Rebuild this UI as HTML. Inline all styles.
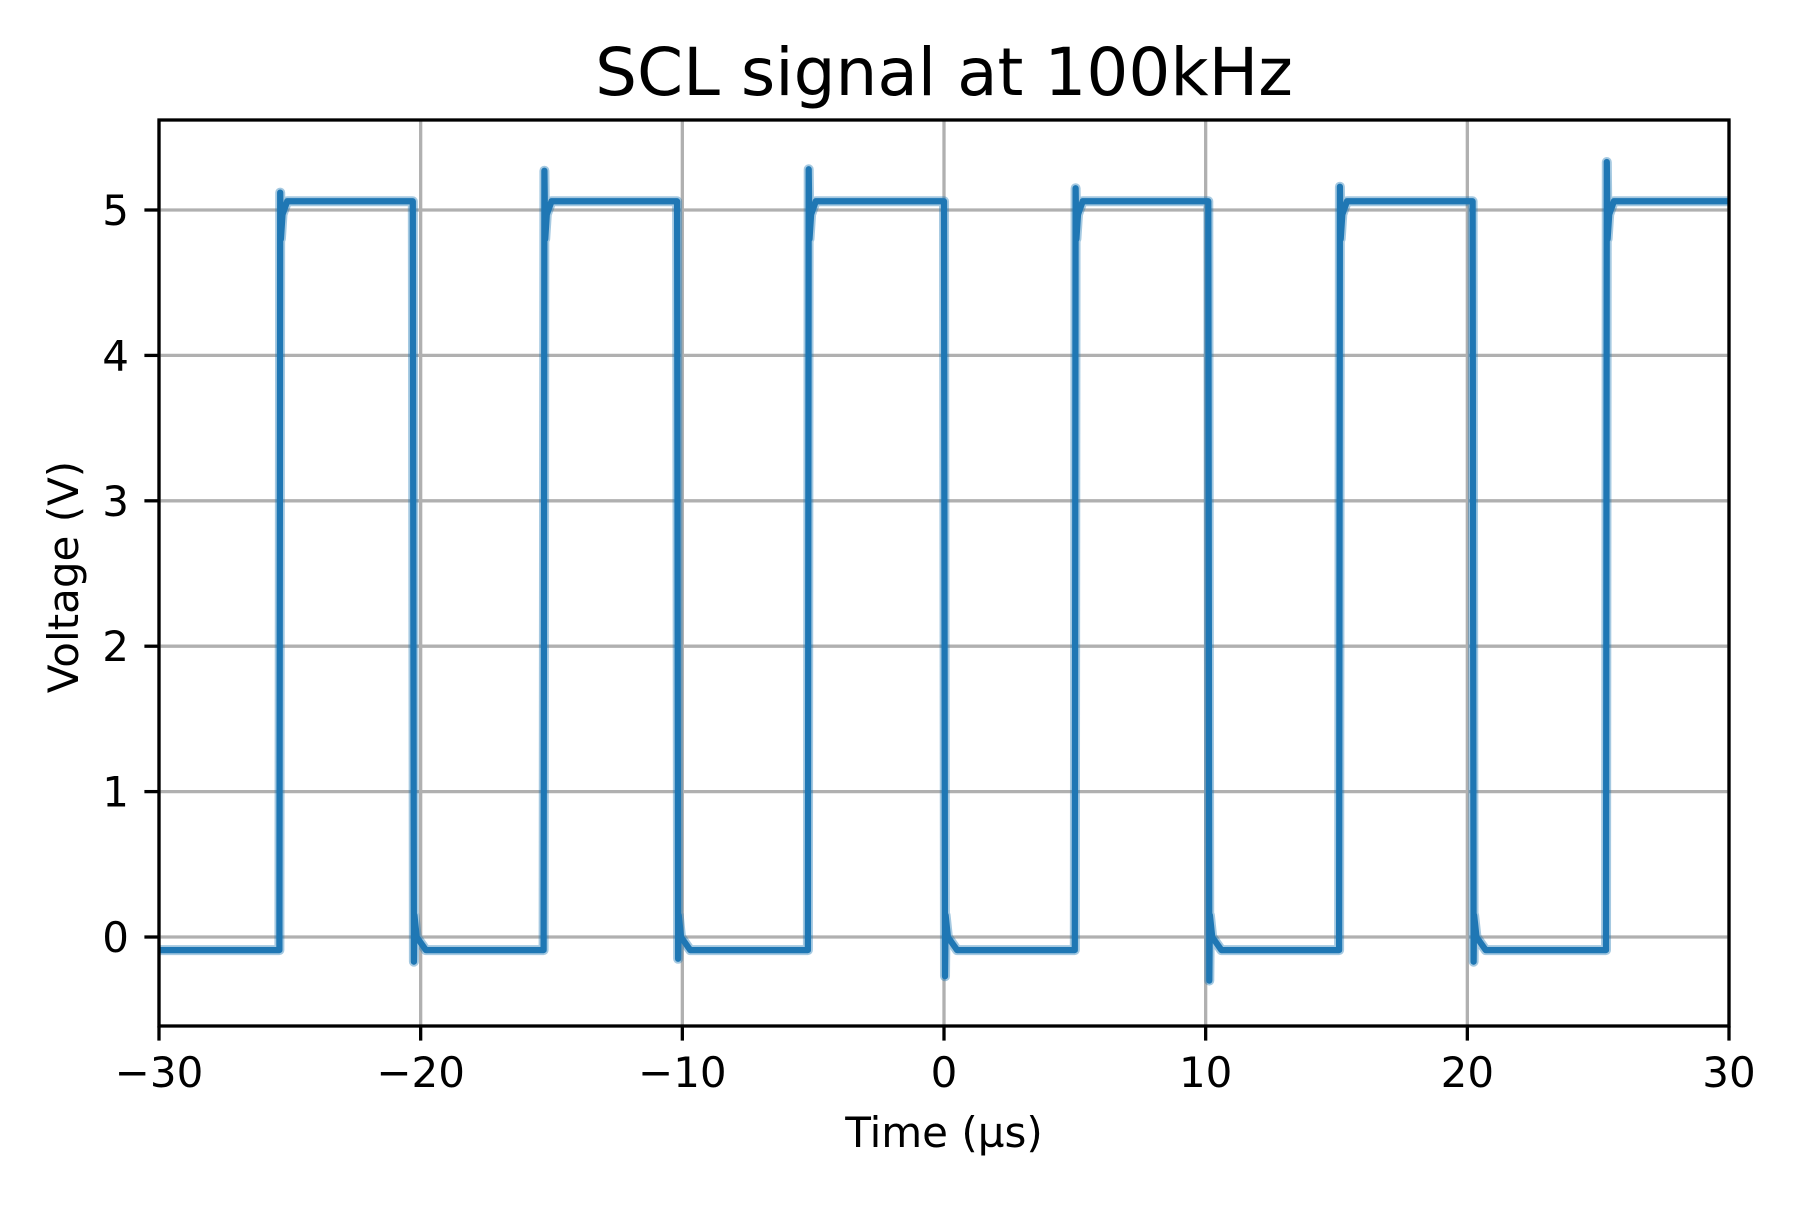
<!DOCTYPE html>
<html><head><meta charset="utf-8"><style>
body{margin:0;background:#fff}
svg text{font-family:"DejaVu Sans","Liberation Sans",sans-serif;fill:#000}
</style></head><body>
<svg id="chart" width="1800" height="1200" viewBox="0 0 1800 1200">
<rect width="1800" height="1200" fill="#fff"/>
<g id="grid"></g>
<g id="series"></g>
<rect x="159" y="120" width="1570" height="906" fill="none" stroke="#000" stroke-width="3.3"/>
<g id="ticks"></g>
<text x="944" y="95" font-size="66" text-anchor="middle">SCL signal at 100kHz</text>
<text x="944" y="1147" font-size="42" text-anchor="middle">Time (µs)</text>
<text transform="translate(78,577) rotate(-90)" font-size="42" text-anchor="middle">Voltage (V)</text>
</svg>
<script>
const xTicks=[-30,-20,-10,0,10,20,30];
const xTickLabels=["\u221230","\u221220","\u221210","0","10","20","30"];
const yTicks=[0,1,2,3,4,5];
const yTickLabels=["0","1","2","3","4","5"];
const risingEdges=[-25.4,-15.3,-5.2,5.0,15.1,25.3];
const risingSpikes=[5.12,5.27,5.28,5.15,5.16,5.33];
const fallingEdges=[-20.3,-10.2,0.0,10.1,20.2];
const fallingUndershoots=[-0.17,-0.15,-0.27,-0.30,-0.17];
const highLevel=5.06;
const lowLevel=-0.09;

const X0=159,X1=1729,Y0=1026,Y1=120,xmin=-30,xmax=30,ymin=-0.612,ymax=5.619;
const sx=v=>X0+(v-xmin)/(xmax-xmin)*(X1-X0);
const sy=v=>Y0-(v-ymin)/(ymax-ymin)*(Y0-Y1);
const NS="http://www.w3.org/2000/svg";
const grid=document.getElementById('grid'),ticks=document.getElementById('ticks'),series=document.getElementById('series');
function mk(tag,attrs,parent){const e=document.createElementNS(NS,tag);for(const k in attrs)e.setAttribute(k,attrs[k]);parent.appendChild(e);return e;}
xTicks.forEach((v,i)=>{
  const x=sx(v);
  const g=mk('line',{x1:x,x2:x,y1:Y1,y2:Y0,stroke:'#b0b0b0','stroke-width':3.3},grid);
  
  
  const t=mk('line',{x1:x,x2:x,y1:Y0,y2:Y0+14.6,stroke:'#000','stroke-width':3.3},ticks);
  
  
  const l=mk('text',{x:x,y:1087,'font-size':42,'text-anchor':'middle'},ticks);
  l.textContent=xTickLabels[i];
  
  
});
yTicks.forEach((v,i)=>{
  const y=sy(v);
  const g=mk('line',{x1:X0,x2:X1,y1:y,y2:y,stroke:'#b0b0b0','stroke-width':3.3},grid);
  
  
  const t=mk('line',{x1:X0-14.6,x2:X0,y1:y,y2:y,stroke:'#000','stroke-width':3.3},ticks);
  
  
  const l=mk('text',{x:X0-30,y:y+15,'font-size':42,'text-anchor':'end'},ticks);
  l.textContent=yTickLabels[i];
  
  
});
const events=[];
risingEdges.forEach((t,i)=>events.push({t,type:'r',v:risingSpikes[i]}));
fallingEdges.forEach((t,i)=>events.push({t,type:'f',v:fallingUndershoots[i]}));
events.sort((a,b)=>a.t-b.t);
const pts=[[xmin,lowLevel]];
events.forEach(e=>{
  if(e.type==='r'){
    pts.push([e.t,lowLevel],[e.t+0.03,e.v],[e.t+0.06,4.8],[e.t+0.12,4.97],[e.t+0.3,highLevel]);
  }else{
    pts.push([e.t,highLevel],[e.t+0.04,e.v],[e.t+0.06,0.15],[e.t+0.15,0.0],[e.t+0.5,lowLevel]);
  }
});
const last=events[events.length-1];
pts.push([xmax,last.type==='r'?highLevel:lowLevel]);
const d=pts.map((p,i)=>(i?'L':'M')+sx(p[0]).toFixed(1)+' '+sy(p[1]).toFixed(1)).join(' ');
const band=mk('path',{d:d,fill:'none',stroke:'#1f77b4','stroke-width':10,'stroke-linejoin':'round','stroke-opacity':0.4},series);


const line=mk('path',{d:d,fill:'none',stroke:'#1f77b4','stroke-width':6.25,'stroke-linejoin':'round'},series);


</script>
</body></html>
